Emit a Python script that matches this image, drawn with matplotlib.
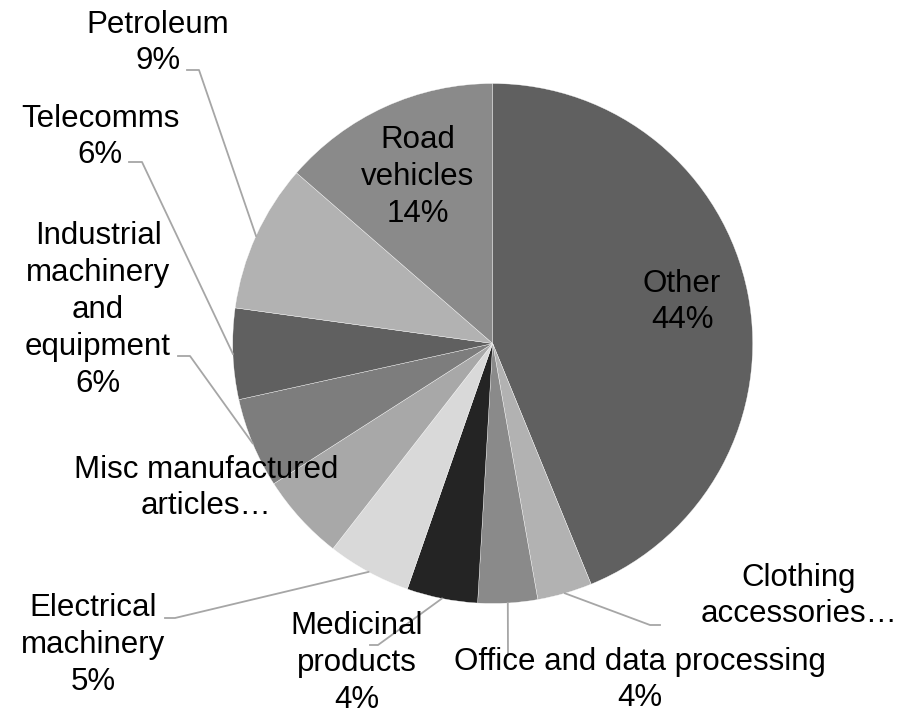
import numpy as np
import matplotlib
matplotlib.use('Agg')
import matplotlib.pyplot as plt

# Slices, clockwise from 12 o'clock
categories = ['Other', 'Clothing accessories', 'Office and data processing',
              'Medicinal products', 'Electrical machinery',
              'Misc manufactured articles', 'Industrial machinery and equipment',
              'Telecomms', 'Petroleum', 'Road vehicles']
shares = [43.8, 3.4, 3.7, 4.4, 5.2, 5.4, 5.6, 5.65, 9.2, 13.6]
label_names = ['Other', 'Clothing\naccessories\u2026', 'Office and data processing',
               'Medicinal\nproducts', 'Electrical\nmachinery',
               'Misc manufactured\narticles\u2026',
               'Industrial\nmachinery\nand\nequipment',
               'Telecomms', 'Petroleum', 'Road\nvehicles']
show_pct = [True, False, True, True, True, False, True, True, True, True]

colors = ['#606060', '#b2b2b2', '#8a8a8a', '#242424', '#d9d9d9',
          '#a8a8a8', '#7d7d7d', '#606060', '#b2b2b2', '#8a8a8a']

W, H = 900, 717
CX, CY, R = 492.7, H - 343.5, 260

# label block centres (pixel coords, y from top)
label_pos = [(682, 302), (799, 596), (640, 680), (357, 663), (93, 645),
             (206, 488), (98, 310), (100, 137), (158, 43), (418, 177)]
# leader elbows (pixel coords, y from top); None = label sits on the slice
leader = [None,
          [(650, 625), (660, 625)],
          [(508, 655)],
          [(378, 645), (370, 645)],
          [(175, 618), (165, 618)],
          None,
          [(190, 356), (178, 356)],
          [(142, 162), (129, 162)],
          [(199, 70), (187, 70)],
          None]


def main():
    fig = plt.figure(figsize=(W / 100, H / 100), dpi=100)
    ax = fig.add_axes([0, 0, 1, 1])

    wedges, _ = ax.pie(shares, colors=colors, startangle=90, counterclock=False,
                       center=(CX, CY), radius=R,
                       wedgeprops=dict(edgecolor='white', linewidth=0.25))
    ax.set_xlim(0, W)
    ax.set_ylim(0, H)
    ax.set_aspect('auto')
    ax.axis('off')

    for i, w in enumerate(wedges):
        text = label_names[i]
        if show_pct[i]:
            text += f'\n{shares[i]:.0f}%'
        lx, ly = label_pos[i]
        if leader[i] is not None:
            mid = np.deg2rad((w.theta1 + w.theta2) / 2)
            xs = [CX + R * np.cos(mid)] + [p[0] for p in leader[i]]
            ys = [CY + R * np.sin(mid)] + [H - p[1] for p in leader[i]]
            ax.plot(xs, ys, color='#a6a6a6', lw=1.3, zorder=1)
        ax.text(lx, H - ly, text, ha='center', va='center', fontsize=22.5,
                family='Liberation Sans', linespacing=1.3, color='black',
                zorder=5)

    fig.savefig('out.png', dpi=100, facecolor='white')


if __name__ == '__main__':
    main()
